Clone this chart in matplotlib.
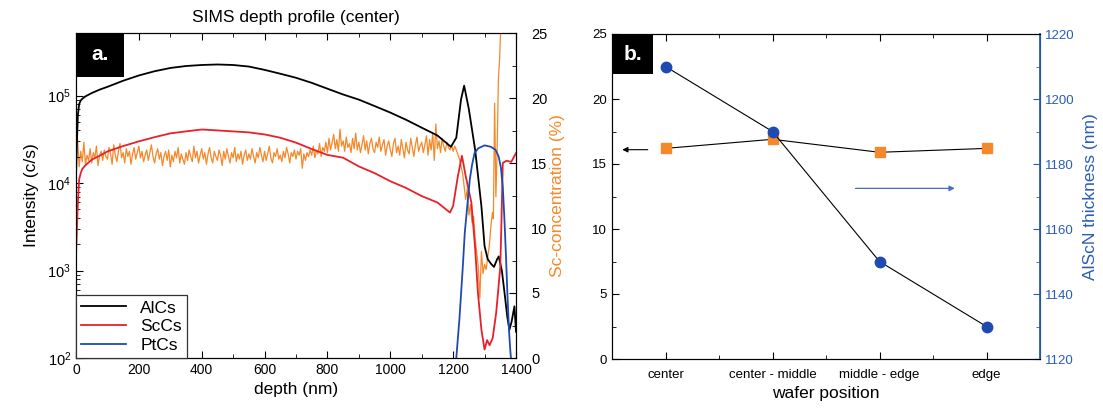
import numpy as np
import matplotlib
matplotlib.use("Agg")
import matplotlib.pyplot as plt
from matplotlib.patches import Rectangle
from matplotlib.ticker import MultipleLocator, LogLocator, NullFormatter

plt.rcParams['font.family'] = ['Liberation Sans', 'DejaVu Sans']
plt.rcParams['mathtext.default'] = 'regular'

# ---- panel a: SIMS depth profile ----
depth_al = [0, 3, 6, 10, 15, 20, 30, 50, 75, 100, 150, 200, 250, 300, 350, 400, 450, 500,
            550, 600, 650, 700, 750, 800, 850, 900, 950, 1000, 1050, 1100, 1150, 1193,
            1210, 1225, 1235, 1250, 1270, 1290, 1300, 1310, 1320, 1330, 1340, 1345, 1355,
            1365, 1372, 1379, 1386, 1395, 1400]
alcs = [1.2e4, 3e4, 6e4, 8e4, 8.8e4, 9.2e4, 9.8e4, 1.07e5, 1.17e5, 1.26e5, 1.48e5, 1.7e5,
        1.9e5, 2.07e5, 2.18e5, 2.24e5, 2.27e5, 2.24e5, 2.15e5, 1.97e5, 1.78e5, 1.6e5, 1.4e5,
        1.2e5, 1.03e5, 9.0e4, 7.6e4, 6.4e4, 5.3e4, 4.3e4, 3.5e4, 2.6e4, 3.3e4, 9e4, 1.3e5,
        7e4, 2.4e4, 5.4e3, 1.9e3, 1.35e3, 1.2e3, 1.1e3, 1.35e3, 1.45e3, 1.0e3, 5e2, 3e2,
        2.1e2, 2.6e2, 3.9e2, 2.0e2]

depth_sc = [0, 3, 6, 10, 15, 20, 30, 50, 75, 100, 150, 200, 250, 300, 350, 400, 450, 500,
            550, 600, 650, 700, 750, 800, 850, 900, 950, 1000, 1050, 1100, 1150, 1190,
            1200, 1215, 1228, 1240, 1258, 1270, 1279, 1290, 1300, 1308, 1316, 1326, 1337,
            1350, 1354, 1358, 1370, 1385, 1400]
sccs = [1.5e3, 3e3, 6e3, 1.1e4, 1.3e4, 1.45e4, 1.6e4, 1.85e4, 2.05e4, 2.3e4, 2.65e4, 3.0e4,
        3.35e4, 3.7e4, 3.9e4, 4.1e4, 4.0e4, 3.9e4, 3.8e4, 3.6e4, 3.3e4, 2.9e4, 2.45e4, 2.1e4,
        1.95e4, 1.55e4, 1.3e4, 1.05e4, 8.8e3, 7.1e3, 6.0e3, 4.6e3, 5.5e3, 1.2e4, 2.05e4,
        1.2e4, 6e3, 1.8e3, 5.5e2, 2.1e2, 1.25e2, 1.6e2, 1.4e2, 1.7e2, 3.3e2, 1.1e3, 4e3,
        1.7e4, 1.8e4, 1.75e4, 2.2e4]

depth_pt = [1210, 1220, 1230, 1237, 1245, 1253, 1260, 1268, 1280, 1300, 1320, 1335, 1345,
            1352, 1358, 1363, 1368, 1373, 1378, 1382, 1385]
ptcs = [100, 2.8e2, 1.0e3, 2.7e3, 5.5e3, 1.1e4, 1.6e4, 2.2e4, 2.5e4, 2.7e4, 2.6e4, 2.4e4,
        2.0e4, 1.5e4, 9e3, 4e3, 1.5e3, 5e2, 2e2, 1.2e2, 90]

# Sc concentration (%), every 5 nm up to 1195 nm, then the interface region
depth_conc = list(range(0, 1200, 5)) + [1200, 1205, 1210, 1220, 1230, 1240, 1245, 1250,
                                        1255, 1260, 1265, 1270, 1275, 1280, 1285, 1290,
                                        1295, 1300, 1305, 1310, 1315, 1320, 1325, 1328,
                                        1332, 1336, 1340, 1344, 1348, 1352]
sc_conc = [18.3, 16.8, 14.7, 15.9, 15.1, 16.6, 14.9, 15.6, 15.2, 16.1,
           15.0, 15.8, 15.4, 16.3, 14.8, 15.6, 15.9, 15.2, 16.0, 15.5,
           15.3, 16.2, 15.7, 14.9, 16.4, 15.6, 15.1, 15.9, 16.5, 15.4,
           15.8, 15.0, 16.1, 15.5, 15.9, 14.9, 15.7, 16.2, 15.3, 15.8,
           16.3, 15.4, 15.9, 15.1, 15.6, 16.0, 15.2, 15.8, 16.4, 15.5,
           15.0, 15.7, 16.1, 15.3, 15.8, 14.8, 15.5, 15.9, 15.2, 16.0,
           14.7, 15.6, 15.1, 15.9, 15.4, 16.2, 15.0, 15.7, 15.3, 14.9,
           15.8, 15.2, 16.0, 15.5, 15.1, 16.3, 15.4, 15.9, 15.0, 15.6,
           16.1, 15.3, 15.8, 14.9, 15.7, 16.2, 15.4, 15.0, 15.9, 15.5,
           15.2, 16.0, 15.6, 14.8, 15.9, 15.3, 16.1, 15.5, 15.0, 15.8,
           15.4, 16.2, 15.1, 15.7, 15.3, 15.9, 14.9, 15.6, 16.0, 15.2,
           15.7, 15.3, 16.1, 15.5, 15.0, 15.8, 15.4, 16.2, 15.6, 15.1,
           15.9, 15.2, 15.7, 16.3, 15.4, 15.0, 15.8, 15.5, 16.1, 15.3,
           15.6, 15.1, 15.9, 15.4, 16.2, 15.7, 15.0, 15.8, 15.5, 16.0,
           15.3, 15.9, 15.6, 16.1, 14.6, 15.7, 15.2, 15.8, 15.5, 16.0,
           15.6, 16.3, 15.4, 16.0, 15.7, 16.5, 15.5, 16.2, 15.9, 16.6,
           15.8, 16.9, 16.0, 16.6, 17.2, 16.1, 16.8, 15.9, 17.6, 16.3,
           16.7, 15.9, 17.0, 16.2, 16.5, 15.8, 16.9, 16.1, 17.3, 16.0,
           16.6, 15.8, 16.4, 17.1, 16.0, 16.7, 15.7, 16.5, 16.9, 16.1,
           15.8, 16.6, 16.2, 17.0, 15.9, 16.4, 16.8, 15.6, 16.3, 16.7,
           16.0, 15.5, 16.5, 16.9, 15.8, 16.3, 15.6, 16.8, 16.1, 15.4,
           16.6, 16.0, 15.7, 16.9, 16.2, 15.5, 16.4, 17.0, 15.9, 16.3,
           16.6, 15.8, 16.4, 17.1, 15.6, 16.8, 16.0, 17.3, 15.2, 18.0,
           16.1, 16.7, 15.8, 16.9, 16.3, 15.9, 16.6, 16.2, 16.0, 16.4,
           15.9, 16.3, 16.0, 15.3, 14.2, 12.2, 13.0, 11.0, 11.8, 10.4,
           10.9, 9.2, 8.1, 7.0, 4.6, 8.2, 6.5, 7.2, 6.8, 7.8,
           8.6, 10.1, 11.2, 10.7, 19.6, 12.4, 16.0, 21.5, 23.0, 26.0]

# ---- panel b: wafer position ----
positions = ['center', 'center - middle', 'middle - edge', 'edge']
sc_wafer = [16.2, 16.9, 15.9, 16.2]
thickness = [1210, 1190, 1150, 1130]

c_orange = '#f5882a'
c_red = '#e8202a'
c_blue = '#1f4bb0'
c_axblue = '#2a5cb8'

fig = plt.figure(figsize=(11.03, 4.09), dpi=100)
ax1 = fig.add_axes([76 / 1103, 1 - 358 / 409, 440 / 1103, 325 / 409])
ax1b = ax1.twinx()

l1, = ax1.plot(depth_al, alcs, color='black', lw=1.3, label='AlCs')
l2, = ax1.plot(depth_sc, sccs, color=c_red, lw=1.3, label='ScCs')
l3, = ax1.plot(depth_pt, ptcs, color=c_blue, lw=1.3, label='PtCs')
ax1b.plot(depth_conc, sc_conc, color=c_orange, lw=0.9)
ax1.set_zorder(ax1b.get_zorder() + 1)
ax1.patch.set_visible(False)

ax1.set_yscale('log')
ax1.set_xlim(0, 1400)
ax1.set_ylim(100, 5.2e5)
ax1b.set_ylim(0, 25)
ax1.xaxis.set_major_locator(MultipleLocator(200))
ax1.xaxis.set_minor_locator(MultipleLocator(100))
ax1.yaxis.set_major_locator(LogLocator(base=10, numticks=10))
ax1.yaxis.set_minor_locator(LogLocator(base=10, subs=np.arange(2, 10), numticks=10))
ax1.yaxis.set_minor_formatter(NullFormatter())
ax1b.yaxis.set_major_locator(MultipleLocator(5))
ax1b.yaxis.set_minor_locator(MultipleLocator(2.5))
ax1.tick_params(which='both', direction='in', top=True, labelsize=10.5)
ax1.tick_params(axis='x', labelsize=10)
ax1.tick_params(which='major', length=5)
ax1.tick_params(which='minor', length=3)
ax1b.tick_params(which='both', direction='in', labelsize=10.5, pad=11)
ax1b.tick_params(which='major', length=5)
ax1b.tick_params(which='minor', length=3)

ax1.set_title('SIMS depth profile (center)', fontsize=12.5, pad=8)
ax1.set_xlabel('depth (nm)', fontsize=12.5, labelpad=4)
ax1.set_ylabel('Intensity (c/s)', fontsize=12.5, labelpad=6)
ax1b.set_ylabel('Sc-concentration (%)', fontsize=12.5, color=c_orange, labelpad=2)

leg = ax1.legend(handles=[l1, l2, l3], loc='lower left', borderaxespad=0, fontsize=12.5,
                 fancybox=False, framealpha=1, edgecolor='#333333', handlelength=2.6,
                 labelspacing=0.2, borderpad=0.3)
leg.get_frame().set_linewidth(0.9)

ax1.add_patch(Rectangle((0, 1 - 44 / 325), 48 / 440, 44 / 325, transform=ax1.transAxes,
                        facecolor='black', edgecolor='none', zorder=10, clip_on=False))
ax1.text(24 / 440, 1 - 22 / 325, 'a.', transform=ax1.transAxes, color='white',
         fontsize=15, fontweight='bold', ha='center', va='center', zorder=11)

# ---- panel b ----
ax2 = fig.add_axes([612 / 1103, 1 - 359 / 409, 428 / 1103, 325 / 409])
ax2b = ax2.twinx()
xpos = np.arange(len(positions))
ax2.plot(xpos, sc_wafer, color='black', lw=0.8, zorder=2)
ax2.plot(xpos, sc_wafer, ls='none', marker='s', ms=6.5, color=c_orange, zorder=3)
ax2b.plot(xpos, thickness, color='black', lw=0.8, zorder=2)
ax2b.plot(xpos, thickness, ls='none', marker='o', ms=7.5, color=c_blue, zorder=3)

ax2.set_xlim(-0.5, 3.5)
ax2.set_ylim(0, 25)
ax2b.set_ylim(1120, 1220)
ax2.set_xticks(xpos)
ax2.set_xticklabels(positions)
ax2.xaxis.set_minor_locator(MultipleLocator(0.5))
ax2.yaxis.set_major_locator(MultipleLocator(5))
ax2.yaxis.set_minor_locator(MultipleLocator(2.5))
ax2b.yaxis.set_major_locator(MultipleLocator(20))
ax2b.yaxis.set_minor_locator(MultipleLocator(10))
ax2.tick_params(which='both', direction='in', top=True, labelsize=9.5)
ax2.tick_params(axis='x', pad=7)
ax2.tick_params(which='major', length=5)
ax2.tick_params(which='minor', length=3)
ax2b.tick_params(which='both', direction='in', labelsize=9.5, colors=c_axblue)
ax2b.tick_params(which='major', length=5)
ax2b.tick_params(which='minor', length=3)
ax2b.spines['right'].set_color(c_axblue)
ax2b.spines['right'].set_linewidth(1.3)
ax2.set_xlabel('wafer position', fontsize=12.5, labelpad=4)
ax2b.set_ylabel('AlScN thickness (nm)', fontsize=12.5, color=c_axblue, labelpad=6)

ax2.annotate('', xy=(-0.43, 16.1), xytext=(-0.14, 16.1),
             arrowprops=dict(arrowstyle='-|>', color='black', lw=0.8, mutation_scale=8))
ax2b.annotate('', xy=(2.73, 1172.5), xytext=(1.75, 1172.5),
              arrowprops=dict(arrowstyle='-|>', color='#4a6fc4', lw=0.9, mutation_scale=8))

ax2.add_patch(Rectangle((0, 1 - 40 / 325), 41 / 428, 40 / 325, transform=ax2.transAxes,
                        facecolor='black', edgecolor='none', zorder=10, clip_on=False))
ax2.text(20.5 / 428, 1 - 20 / 325, 'b.', transform=ax2.transAxes, color='white',
         fontsize=15, fontweight='bold', ha='center', va='center', zorder=11)

fig.savefig('out.png', dpi=100)
